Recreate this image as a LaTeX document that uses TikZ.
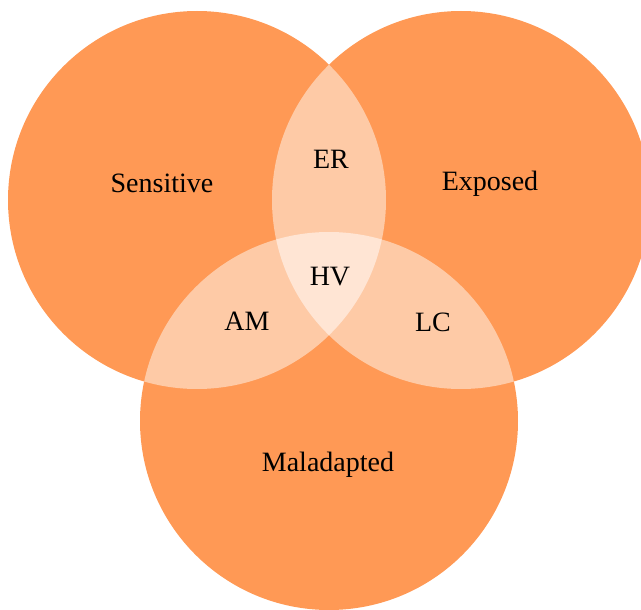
\documentclass[tikz,border=0pt]{standalone}
\usepackage{fontspec}
\setmainfont{Liberation Serif}
\definecolor{vennorange}{HTML}{FF9955}
\definecolor{vennpair}{HTML}{FECAA6}
\definecolor{venntriple}{HTML}{FFE5D4}
\begin{document}
\begin{tikzpicture}[x=1pt,y=-1pt]
	\tikzstyle{every node}+=[inner sep=0pt,anchor=base,font=\fontsize{28}{32}\selectfont]
	\useasboundingbox (0,0) rectangle (641,610);
	\clip (0,0) rectangle (641,610);
	% circle centres
	\coordinate (sens) at (197,200);
	\coordinate (expo) at (461,200);
	\coordinate (mala) at (329,421);
	\fill [vennorange] (sens) circle (189);
	\fill [vennorange] (expo) circle (189);
	\fill [vennorange] (mala) circle (189);
	% pairwise overlaps
	\begin{scope}
		\clip (sens) circle (189);
		\fill [vennpair] (expo) circle (189);
		\fill [vennpair] (mala) circle (189);
	\end{scope}
	\begin{scope}
		\clip (expo) circle (189);
		\fill [vennpair] (mala) circle (189);
	\end{scope}
	% triple overlap
	\begin{scope}
		\clip (sens) circle (189);
		\clip (expo) circle (189);
		\fill [venntriple] (mala) circle (189);
	\end{scope}
	\node (sensitive) at (162,192.6) {Sensitive};
	\node (exposed) at (490,190.7) {Exposed};
	\node (maladapted) at (328,471.6) {Maladapted};
	\node (er) at (331,168.5) {ER};
	\node (hv) at (330,285) {HV};
	\node (am) at (247,330.7) {AM};
	\node (lc) at (433,331.5) {LC};
\end{tikzpicture}
\end{document}
